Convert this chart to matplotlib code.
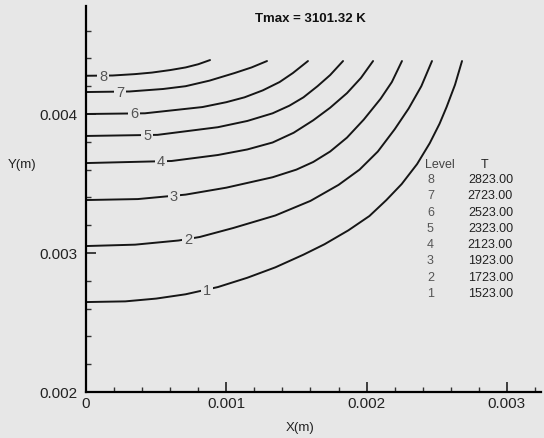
import numpy as np
import matplotlib
matplotlib.use('Agg')
import matplotlib.pyplot as plt
from matplotlib.ticker import MultipleLocator

# Contour lines (X, Y in mm)
levels = [1, 2, 3, 4, 5, 6, 7, 8]
temps = ['1523.00', '1723.00', '1923.00', '2123.00',
         '2323.00', '2523.00', '2723.00', '2823.00']

x1 = [0, 0.28, 0.50, 0.71, 0.94, 1.15, 1.35, 1.55, 1.70, 1.87, 2.02,
      2.14, 2.25, 2.36, 2.45, 2.52, 2.57, 2.63, 2.68]
y1 = [2.647, 2.652, 2.672, 2.703, 2.755, 2.822, 2.897, 2.988, 3.063, 3.163,
      3.266, 3.38, 3.496, 3.64, 3.79, 3.93, 4.05, 4.21, 4.381]
x2 = [0, 0.35, 0.66, 0.81, 1.05, 1.35, 1.60, 1.80, 1.95, 2.08, 2.20,
      2.30, 2.39, 2.466]
y2 = [3.050, 3.060, 3.090, 3.115, 3.180, 3.27, 3.375, 3.49, 3.60, 3.73,
      3.89, 4.04, 4.20, 4.381]
x3 = [0, 0.37, 0.71, 1.0, 1.33, 1.50, 1.62, 1.74, 1.86, 1.98, 2.10,
      2.18, 2.252]
y3 = [3.381, 3.388, 3.42, 3.47, 3.545, 3.60, 3.655, 3.73, 3.83, 3.96,
      4.11, 4.23, 4.381]
x4 = [0, 0.61, 0.94, 1.15, 1.33, 1.48, 1.62, 1.74, 1.86, 1.96, 2.046]
y4 = [3.647, 3.662, 3.705, 3.745, 3.795, 3.865, 3.955, 4.045, 4.15, 4.26,
      4.381]
x5 = [0, 0.51, 0.94, 1.15, 1.33, 1.45, 1.55, 1.65, 1.74, 1.832]
y5 = [3.842, 3.850, 3.905, 3.95, 4.005, 4.06, 4.12, 4.20, 4.28, 4.381]
x6 = [0, 0.42, 0.83, 1.0, 1.13, 1.26, 1.38, 1.475, 1.582]
y6 = [4.0, 4.005, 4.05, 4.085, 4.12, 4.17, 4.23, 4.295, 4.381]
x7 = [0, 0.31, 0.55, 0.71, 0.88, 1.06, 1.18, 1.29]
y7 = [4.158, 4.162, 4.180, 4.20, 4.24, 4.295, 4.335, 4.381]
x8 = [0, 0.19, 0.35, 0.47, 0.60, 0.71, 0.80, 0.884]
y8 = [4.275, 4.277, 4.287, 4.298, 4.316, 4.335, 4.358, 4.388]

lines_x = [x1, x2, x3, x4, x5, x6, x7, x8]
lines_y = [y1, y2, y3, y4, y5, y6, y7, y8]

# where the level numbers sit along each line (X in mm)
label_x = [0.862, 0.727, 0.627, 0.535, 0.435, 0.342, 0.242, 0.121]

bg = '#e7e7e7'
plt.rcParams['font.family'] = ['Liberation Sans', 'DejaVu Sans']

fig = plt.figure(figsize=(5.44, 4.39), dpi=100, facecolor=bg)
ax = fig.add_axes([86/544, 1 - 393/439, (541 - 86)/544, (393 - 7)/439])
ax.set_facecolor(bg)

for lv, xs, ys, lx in zip(levels, lines_x, lines_y, label_x):
    xs = np.array(xs) * 1e-3
    ys = np.array(ys) * 1e-3
    ax.plot(xs, ys, color='#161616', lw=1.4, solid_capstyle='round',
            solid_joinstyle='round')
    ly = np.interp(lx * 1e-3, xs, ys)
    ax.text(lx * 1e-3, ly, str(lv), fontsize=10.5, color='#555555',
            ha='center', va='center', zorder=5,
            bbox=dict(facecolor=bg, edgecolor='none', pad=1.2))

ax.set_xlim(0, 0.003243)
ax.set_ylim(0.002, 0.002 + 386/139*0.001)

ax.spines['top'].set_visible(False)
ax.spines['right'].set_visible(False)
ax.spines['left'].set_linewidth(1.6)
ax.spines['bottom'].set_linewidth(1.6)

ax.xaxis.set_minor_locator(MultipleLocator(0.0002))
ax.yaxis.set_minor_locator(MultipleLocator(0.0002))
ax.set_xticks([0, 0.001, 0.002, 0.003])
ax.set_xticklabels(['0', '0.001', '0.002', '0.003'])
ax.set_yticks([0.002, 0.003, 0.004])
ax.set_yticklabels(['0.002', '0.003', '0.004'])
ax.tick_params(which='major', direction='in', length=7, width=1.2,
               labelsize=11, labelcolor='#222222', color='#222222')
ax.tick_params(which='minor', direction='in', length=3.5, width=1.0,
               color='#333333')
ax.tick_params(axis='y', which='major', pad=6)
ax.tick_params(axis='x', which='major', pad=3)

fig.text(0.041, 1 - 165/439, 'Y(m)', fontsize=9.5, color='#222222',
         ha='center', va='center')
fig.text(300/544, 1 - 428/439, 'X(m)', fontsize=9.5, color='#222222',
         ha='center', va='center')
fig.text(310/544, 1 - 19/439, 'Tmax = 3101.32 K', fontsize=9.5,
         fontweight='bold', color='#111111', ha='center', va='center')

# level table
fig.text(425/544, 1 - 165/439, 'Level', fontsize=9, color='#444444',
         ha='left', va='center')
fig.text(485/544, 1 - 165/439, 'T', fontsize=9, color='#222222',
         ha='center', va='center')
for i, (lv, t) in enumerate(zip(levels[::-1], temps[::-1])):
    yy = 1 - (180 + i*16.3)/439
    fig.text(427/544, yy, str(lv), fontsize=9, color='#555555',
             ha='left', va='center')
    fig.text(513/544, yy, t, fontsize=9, color='#222222',
             ha='right', va='center')

fig.savefig('out.png', dpi=100, facecolor=bg)
